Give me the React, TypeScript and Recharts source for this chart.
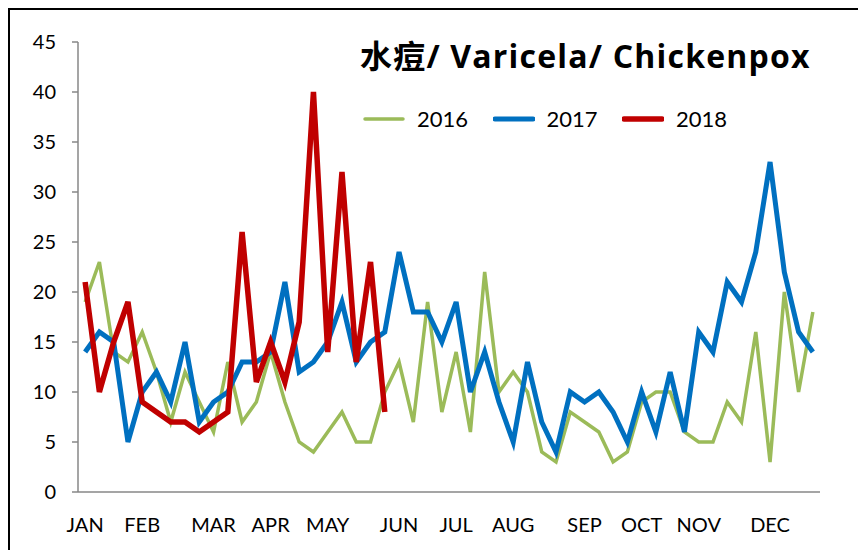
import React from "react"
import { LineChart, Line, XAxis, YAxis, Legend } from "recharts"

// weekly notifications, week 1..52
const WEEKS = Array.from({ length: 52 }, (_, i) => i + 1)

const CASES_2016 = [
  19, 23, 14, 13, 16, 12, 7, 12, 9, 6, 13, 7, 9, 14, 9, 5, 4, 6, 8, 5, 5, 10, 13, 7, 19, 8,
  14, 6, 22, 10, 12, 10, 4, 3, 8, 7, 6, 3, 4, 9, 10, 10, 6, 5, 5, 9, 7, 16, 3, 20, 10, 18,
]
const CASES_2017 = [
  14, 16, 15, 5, 10, 12, 9, 15, 7, 9, 10, 13, 13, 14, 21, 12, 13, 15, 19, 13, 15, 16, 24, 18,
  18, 15, 19, 10, 14, 9, 5, 13, 7, 4, 10, 9, 10, 8, 5, 10, 6, 12, 6, 16, 14, 21, 19, 24, 33,
  22, 16, 14,
]
const CASES_2018 = [21, 10, 15, 19, 9, 8, 7, 7, 6, 7, 8, 26, 11, 15, 11, 17, 40, 14, 32, 13, 23, 8]

const MONTH_LABELS = ["JAN", "FEB", "MAR", "APR", "MAY", "JUN", "JUL", "AUG", "SEP", "OCT", "NOV", "DEC"]
const MONTH_START_WEEKS = [1, 5, 10, 14, 18, 23, 27, 31, 36, 40, 44, 49]
const Y_TICKS = [0, 5, 10, 15, 20, 25, 30, 35, 40, 45]

const TITLE = "水痘/ Varicela/ Chickenpox"
const FONT = "Lato, 'Noto Sans CJK TC', sans-serif"
const TITLE_FONT = "'Open Sans', 'Noto Sans CJK TC', sans-serif"
const AXIS_COLOR = "#878787"

const data = WEEKS.map((w, i) => ({
  x: w - 0.5,
  y2016: CASES_2016[i],
  y2017: CASES_2017[i],
  y2018: CASES_2018[i],
}))

const boundaryTicks = [0, ...WEEKS]
const monthTicks = MONTH_START_WEEKS.map((w) => w - 0.5)

function monthLabel(v: number) {
  const idx = monthTicks.indexOf(v)
  return idx >= 0 ? MONTH_LABELS[idx] : ""
}

function LegendContent({ payload }: any) {
  return (
    <div style={{ display: "flex", fontFamily: FONT, fontSize: 22, color: "#000" }}>
      {(payload || []).map((p: any) => (
        <div key={p.value} style={{ width: 129.5, display: "flex", alignItems: "center" }}>
          <svg width={42} height={8} style={{ marginRight: 12 }}>
            <line
              x1={2}
              x2={40}
              y1={4}
              y2={4}
              stroke={p.color}
              strokeWidth={p.payload?.strokeWidth ?? 4}
              strokeLinecap="round"
            />
          </svg>
          <span>{p.value}</span>
        </div>
      ))}
    </div>
  )
}

export default function App() {
  return (
    <div
      style={{
        position: "relative",
        width: 858,
        height: 542,
        borderTop: "2px solid #000",
        borderLeft: "2px solid #000",
        boxSizing: "border-box",
        background: "#fff",
        overflow: "hidden",
      }}
    >
      <div
        style={{
          position: "absolute",
          left: 350,
          top: 28,
          fontFamily: TITLE_FONT,
          fontSize: 32,
          fontWeight: "bold",
          letterSpacing: 1.2,
          lineHeight: "36px",
          color: "#000",
          whiteSpace: "nowrap",
          zIndex: 2,
        }}
      >
        {TITLE}
      </div>
      <LineChart width={856} height={540} data={data} margin={{ top: 32, right: 46, left: 8, bottom: 0 }}>
        <YAxis
          domain={[0, 45]}
          ticks={Y_TICKS}
          width={60}
          tick={{ fontSize: 20, fill: "#000", fontFamily: FONT }}
          tickSize={6}
          tickMargin={16}
          axisLine={{ stroke: AXIS_COLOR, strokeWidth: 1.5 }}
          tickLine={{ stroke: AXIS_COLOR, strokeWidth: 1.5 }}
        />
        <XAxis
          xAxisId="b"
          dataKey="x"
          type="number"
          domain={[0, 52]}
          ticks={monthTicks}
          interval={0}
          height={50}
          axisLine={false}
          tickLine={false}
          tickSize={0}
          tickMargin={18}
          tickFormatter={monthLabel}
          tick={{ fontSize: 20, fill: "#000", fontFamily: FONT }}
        />
        <XAxis
          xAxisId="a"
          dataKey="x"
          type="number"
          domain={[0, 52]}
          ticks={boundaryTicks}
          interval={0}
          height={8}
          tick={false}
          tickSize={6}
          axisLine={{ stroke: AXIS_COLOR, strokeWidth: 1.5 }}
          tickLine={{ stroke: AXIS_COLOR, strokeWidth: 1.5 }}
        />
        <Legend
          layout="horizontal"
          verticalAlign="middle"
          align="center"
          wrapperStyle={{ top: 95, left: 353, width: 420 }}
          content={<LegendContent />}
        />
        <Line
          xAxisId="a"
          name="2016"
          dataKey="y2016"
          stroke="#9BBB59"
          strokeWidth={3.5}
          dot={false}
          type="linear"
          isAnimationActive={false}
        />
        <Line
          xAxisId="a"
          name="2017"
          dataKey="y2017"
          stroke="#0070C0"
          strokeWidth={5}
          dot={false}
          type="linear"
          isAnimationActive={false}
        />
        <Line
          xAxisId="a"
          name="2018"
          dataKey="y2018"
          stroke="#C00000"
          strokeWidth={5.5}
          dot={false}
          type="linear"
          isAnimationActive={false}
        />
      </LineChart>
    </div>
  )
}
